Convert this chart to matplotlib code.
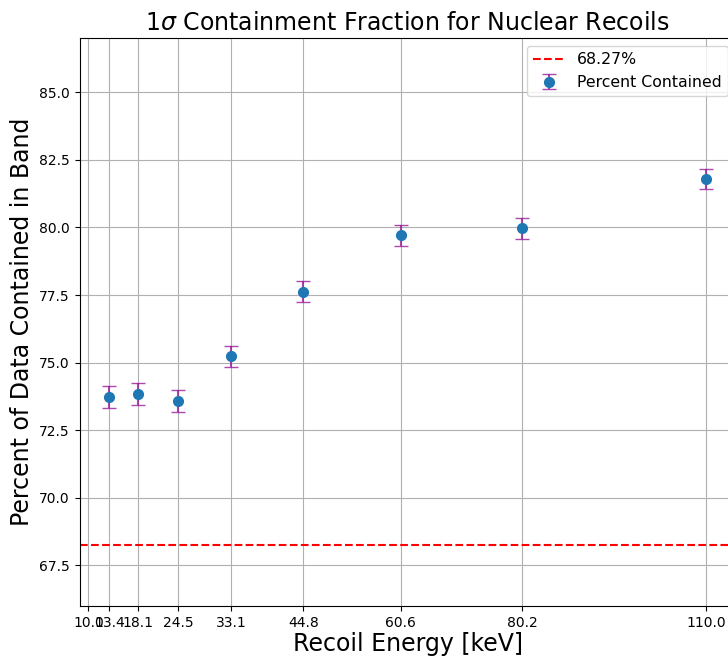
import matplotlib
matplotlib.use("Agg")
from matplotlib import pyplot

# recoil energy bins [keV] and fraction of events inside the 1 sigma band
energies = [13.4, 18.1, 24.5, 33.1, 44.8, 60.6, 80.2, 110.0]
percent_contained = [73.72, 73.83, 73.58, 75.23, 77.63, 79.71, 79.96, 81.78]
percent_err = [0.41, 0.41, 0.41, 0.40, 0.40, 0.38, 0.38, 0.37]
xtick_values = [10.0, 13.4, 18.1, 24.5, 33.1, 44.8, 60.6, 80.2, 110.0]
one_sigma = 68.27

fig = pyplot.figure(figsize=(7.28, 6.57), dpi=100)
ax = fig.add_axes([0.1093, 0.0776, 0.9014, 0.8644])

ax.axhline(one_sigma, color="r", linestyle="--", label="68.27%")
ax.errorbar(
    energies,
    percent_contained,
    yerr=percent_err,
    fmt="o",
    color="C0",
    ecolor=(0.6, 0.1, 0.6, 0.8),
    elinewidth=1.5,
    capsize=5,
    markersize=7,
    label="Percent Contained",
)

ax.set_xticks(xtick_values)
ax.set_xticklabels([f"{v:.1f}" for v in xtick_values])
ax.set_xlim(8.57, 114.83)
ax.set_ylim(66, 87)
ax.grid(True)

ax.set_title(r"1$\sigma$ Containment Fraction for Nuclear Recoils", fontsize=17)
ax.set_xlabel("Recoil Energy [keV]", fontsize=17, labelpad=1.5)
ax.set_ylabel("Percent of Data Contained in Band", fontsize=17)
ax.legend(loc="upper right", fontsize=11.3)

fig.savefig("out.png", dpi=100)
